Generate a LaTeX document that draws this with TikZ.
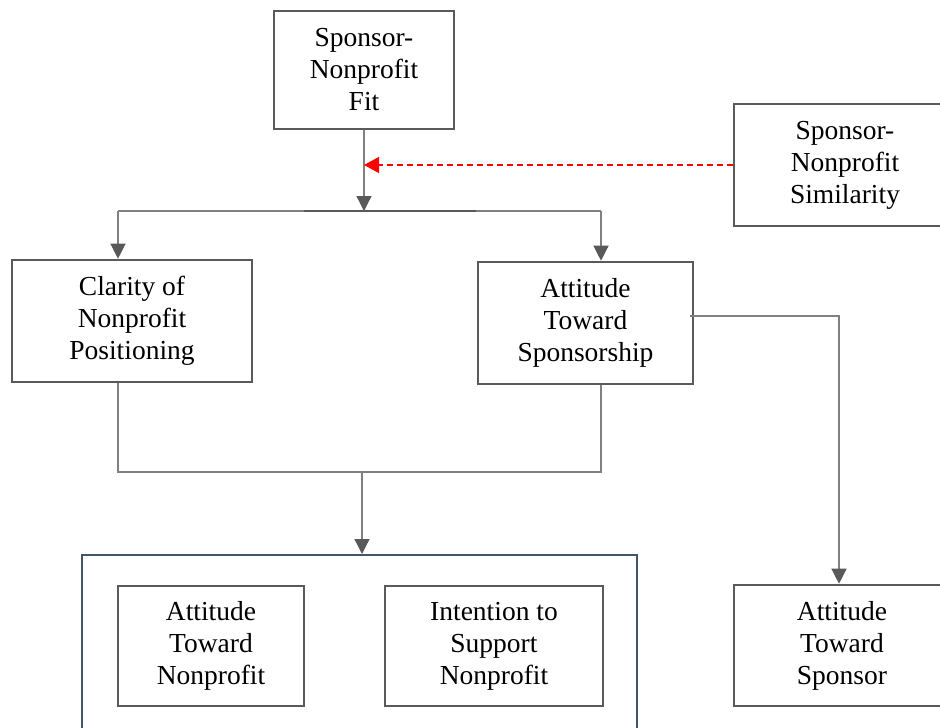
\documentclass[tikz,border=0pt]{standalone}
\usepackage{fontspec}
\setmainfont{Liberation Serif}
\usetikzlibrary{arrows.meta}
\definecolor{boxgray}{HTML}{5A5A5A}
\definecolor{linegray}{HTML}{808080}
\definecolor{headgray}{HTML}{595959}
\definecolor{slate}{HTML}{44546A}
\tikzset{
  box/.style={draw=boxgray, line width=2.6pt, fill=white, inner sep=0pt, align=center,
    font=\fontsize{27.5}{32}\selectfont, execute at begin node={\rule{0pt}{25pt}}},
  conn/.style={draw=linegray, line width=1.3pt},
  arr/.style={conn, -{Triangle[length=15pt,width=15pt,fill=headgray,color=headgray]}},
  redarr/.style={draw=red, line width=1.4pt, dash pattern=on 6pt off 4pt,
    -{Triangle[length=15pt,width=16pt,fill=red,color=red,sep=0pt]}},
}
\begin{document}
\begin{tikzpicture}[x=1pt,y=-1pt]
\useasboundingbox (0,0) rectangle (940,728);
\clip (0,0) rectangle (940,728);
\fill[white] (0,0) rectangle (940,728);

% container
\node[draw=slate, line width=2pt, minimum width=555pt, minimum height=200pt, inner sep=0pt,
  anchor=north west] (cont) at (81,554) {};

% boxes
\node[box, minimum width=180pt, minimum height=118pt] (fit) at (364,70) {Sponsor-\\Nonprofit\\Fit};
\node[box, minimum width=222pt, minimum height=122pt] (sim) at (845,165) {Sponsor-\\Nonprofit\\Similarity};
\node[box, minimum width=240pt, minimum height=122pt] (clar) at (132,321) {Clarity of\\Nonprofit\\Positioning};
\node[box, minimum width=215pt, minimum height=122pt] (att) at (585.5,323) {Attitude\\Toward\\Sponsorship};
\node[box, minimum width=186pt, minimum height=120pt] (atn) at (211,646) {Attitude\\Toward\\Nonprofit};
\node[box, minimum width=218pt, minimum height=120pt] (isn) at (494,646) {Intention to\\Support\\Nonprofit};
\node[box, minimum width=216pt, minimum height=121pt] (ats) at (842,645.5) {Attitude\\Toward\\Sponsor};

% coordinates
\coordinate (jm) at (364,211);
\coordinate (jl) at (118,211);
\coordinate (jr) at (601,211);
\coordinate (rt) at (364,165);
\coordinate (bl) at (118,472);
\coordinate (br) at (601,472);
\coordinate (bm) at (362,472);
\coordinate (sx) at (839,316);
\coordinate (sa) at (690,316);

% top fan-out
\draw[arr] (fit.south) -- (jm);
\draw[conn] (jl) -- (jr);
\draw[draw=headgray, line width=1.6pt] (304,211) -- (476,211);
\draw[arr] (jl) -- (jl |- clar.north);
\draw[arr] (jr) -- (jr |- att.north);

% moderator
\draw[redarr] (sim.west |- rt) -- (rt);

% merge to container
\draw[conn] (jl |- clar.south) -- (bl) -- (br) -- (jr |- att.south);
\draw[arr] (bm) -- (bm |- cont.north);

% to sponsor
\draw[arr] (sa) -- (sx) -- (sx |- ats.north);
\end{tikzpicture}
\end{document}
